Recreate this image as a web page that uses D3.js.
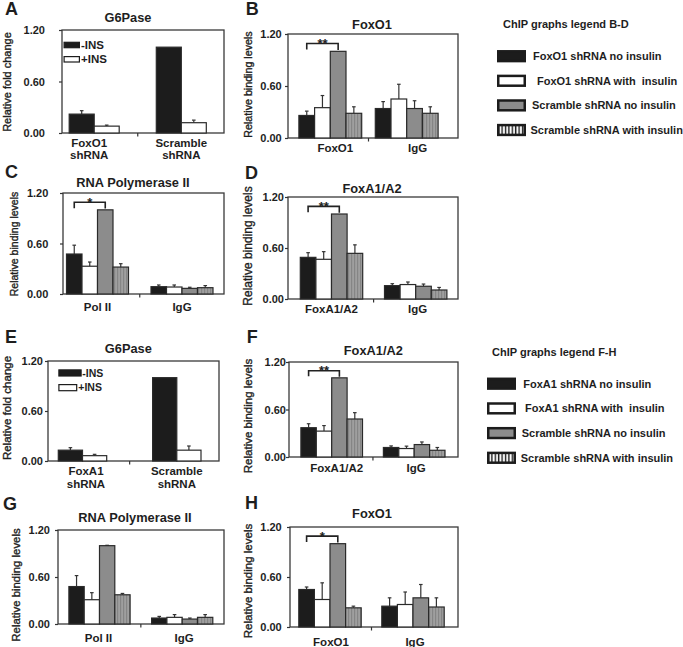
<!DOCTYPE html>
<html><head><meta charset="utf-8">
<script src="https://cdn.jsdelivr.net/npm/d3@7"></script>
<style>
body{margin:0;background:#fff}
svg{display:block}
text{font-family:"Liberation Sans",Arial,Helvetica,sans-serif;fill:#1e1e1e}
</style>
</head><body>
<script>
// ---------------- data ----------------
const yTicks = [0, 0.6, 1.2];
const foldLegend = ["-INS", "+INS"];

// A: G6Pase (FoxO1 knockdown)
const aCategories = ["FoxO1 shRNA", "Scramble shRNA"];
const aNoIns = [0.22, 1.00];
const aNoInsErr = [0.04, 0];
const aIns = [0.08, 0.12];
const aInsErr = [0.012, 0.03];

// B: FoxO1 ChIP
const bCategories = ["FoxO1", "IgG"];
const bKdNoIns = [0.26, 0.34];
const bKdNoInsErr = [0.05, 0.08];
const bKdIns = [0.35, 0.45];
const bKdInsErr = [0.14, 0.17];
const bScrNoIns = [1.00, 0.34];
const bScrNoInsErr = [0, 0.09];
const bScrIns = [0.285, 0.285];
const bScrInsErr = [0.075, 0.075];

// C: RNA Polymerase II ChIP
const cCategories = ["Pol II", "IgG"];
const cKdNoIns = [0.475, 0.087];
const cKdNoInsErr = [0.105, 0.02];
const cKdIns = [0.33, 0.083];
const cKdInsErr = [0.05, 0.024];
const cScrNoIns = [1.00, 0.067];
const cScrNoInsErr = [0, 0.013];
const cScrIns = [0.32, 0.075];
const cScrInsErr = [0.04, 0.025];

// D: FoxA1/A2 ChIP
const dCategories = ["FoxA1/A2", "IgG"];
const dKdNoIns = [0.49, 0.157];
const dKdNoInsErr = [0.055, 0.023];
const dKdIns = [0.467, 0.17];
const dKdInsErr = [0.09, 0.03];
const dScrNoIns = [1.00, 0.15];
const dScrNoInsErr = [0, 0.026];
const dScrIns = [0.537, 0.106];
const dScrInsErr = [0.10, 0.03];

// E: G6Pase (FoxA1 knockdown)
const eCategories = ["FoxA1 shRNA", "Scramble shRNA"];
const eNoIns = [0.13, 1.00];
const eNoInsErr = [0.03, 0];
const eIns = [0.064, 0.13];
const eInsErr = [0.016, 0.05];

// F: FoxA1/A2 ChIP
const fCategories = ["FoxA1/A2", "IgG"];
const fKdNoIns = [0.37, 0.12];
const fKdNoInsErr = [0.05, 0.02];
const fKdIns = [0.327, 0.107];
const fKdInsErr = [0.07, 0.03];
const fScrNoIns = [1.00, 0.157];
const fScrNoInsErr = [0, 0.033];
const fScrIns = [0.48, 0.085];
const fScrInsErr = [0.08, 0.035];

// G: RNA Polymerase II ChIP
const gCategories = ["Pol II", "IgG"];
const gKdNoIns = [0.478, 0.076];
const gKdNoInsErr = [0.14, 0.021];
const gKdIns = [0.31, 0.085];
const gKdInsErr = [0.09, 0.035];
const gScrNoIns = [1.00, 0.063];
const gScrNoInsErr = [0.005, 0.013];
const gScrIns = [0.373, 0.085];
const gScrInsErr = [0.017, 0.035];

// H: FoxO1 ChIP
const hCategories = ["FoxO1", "IgG"];
const hKdNoIns = [0.45, 0.25];
const hKdNoInsErr = [0.03, 0.10];
const hKdIns = [0.33, 0.27];
const hKdInsErr = [0.20, 0.15];
const hScrNoIns = [1.00, 0.35];
const hScrNoInsErr = [0, 0.16];
const hScrIns = [0.23, 0.24];
const hScrInsErr = [0.02, 0.11];

const legendBDTitle = "ChIP graphs legend B-D";
const legendBD = ["FoxO1 shRNA no insulin", "FoxO1 shRNA with  insulin", "Scramble shRNA no insulin", "Scramble shRNA with insulin"];
const legendFHTitle = "ChIP graphs legend F-H";
const legendFH = ["FoxA1 shRNA no insulin", "FoxA1 shRNA with  insulin", "Scramble shRNA no insulin", "Scramble shRNA with insulin"];

// ---------------- styles / layout ----------------
const W = 683, H = 647;
const FILL2 = ["#1c1c1c", "#ffffff"];
const FILL4 = ["#1c1c1c", "#ffffff", "#8c8c8c", "url(#stripeBar)"];
const LEG_FILL4 = ["#1c1c1c", "#ffffff", "#8c8c8c", "url(#stripeLeg)"];

const svg = d3.select("body").append("svg").attr("width", W).attr("height", H);
const defs = svg.append("defs");
const p1 = defs.append("pattern").attr("id", "stripeBar").attr("patternUnits", "userSpaceOnUse")
  .attr("width", 3).attr("height", 10);
p1.append("rect").attr("width", 3).attr("height", 10).attr("fill", "#858585");
p1.append("rect").attr("x", 1.5).attr("width", 1.1).attr("height", 10).attr("fill", "#b0b0b0");
const p2 = defs.append("pattern").attr("id", "stripeLeg").attr("patternUnits", "userSpaceOnUse")
  .attr("width", 3.4).attr("height", 10);
p2.append("rect").attr("width", 3.4).attr("height", 10).attr("fill", "#ffffff");
p2.append("rect").attr("x", 1.6).attr("width", 1.4).attr("height", 10).attr("fill", "#1c1c1c");

const panels = [
  { id: "A", title: "G6Pase", ylabel: "Relative fold change", cats: aCategories,
    series: [aNoIns, aIns], errs: [aNoInsErr, aInsErr], fills: FILL2,
    box: [62, 30, 224, 133], centers: [94.2, 181.3], barW: 25, tickPad: 14,
    titleXY: [128, 21.7], letterXY: [5, 15], ylab: [7, 82, 11], xlab: { y: 146.7, dx: [-5, 0], lh: 12.6 },
    legend: { x: 63.5, ys: [41.7, 56], w: [16.5, 16.5], h: 6.6, tx: [81, 81], size: 11.5 } },
  { id: "B", title: "FoxO1", ylabel: "Relative binding levels", cats: bCategories,
    series: [bKdNoIns, bKdIns, bScrNoIns, bScrIns], errs: [bKdNoInsErr, bKdInsErr, bScrNoInsErr, bScrInsErr], fills: FILL4,
    box: [288, 34, 458, 138], centers: [330.3, 406.7], barW: 15.7, tickPad: 3.3,
    titleXY: [372, 29], letterXY: [245.7, 15], ylab: [248, 84.5, 10.7], xlab: { y: 151.7, dx: [5, 11], lh: 12.6 },
    sig: "**" },
  { id: "C", title: "RNA Polymerase II", ylabel: "Relative binding levels", cats: cCategories,
    series: [cKdNoIns, cKdIns, cScrNoIns, cScrIns], errs: [cKdNoInsErr, cKdInsErr, cScrNoInsErr, cScrInsErr], fills: FILL4,
    box: [63, 193, 224, 294], centers: [97.5, 182], barW: 15.5, tickPad: 11.7,
    titleXY: [133, 186.7], letterXY: [5, 178], ylab: [14, 244, 10.5], xlab: { y: 310.7, dx: [0, 0], lh: 12.6 },
    sig: "*" },
  { id: "D", title: "FoxA1/A2", ylabel: "Relative binding levels", cats: dCategories,
    series: [dKdNoIns, dKdIns, dScrNoIns, dScrIns], errs: [dKdNoInsErr, dKdInsErr, dScrNoInsErr, dScrInsErr], fills: FILL4,
    box: [288, 197, 458, 299], centers: [331.5, 415.7], barW: 15.6, tickPad: 1,
    titleXY: [372, 193.3], letterXY: [245, 179], ylab: [247.5, 246, 12], xlab: { y: 313.3, dx: [0, 2], lh: 12.6 },
    sig: "**" },
  { id: "E", title: "G6Pase", ylabel: "Relative fold change", cats: eCategories,
    series: [eNoIns, eIns], errs: [eNoInsErr, eInsErr], fills: FILL2,
    box: [48, 361, 219, 461], centers: [82.5, 176.8], barW: 24.2, tickPad: 2,
    titleXY: [128.3, 352.7], letterXY: [5, 343], ylab: [6.7, 408, 11.5], xlab: { y: 475.3, dx: [3.5, 0], lh: 12.6 },
    legend: { x: 58.3, ys: [369.3, 384], w: [23.4, 19], h: 7.3, tx: [82.3, 78.3], size: 10.5 } },
  { id: "F", title: "FoxA1/A2", ylabel: "Relative binding levels", cats: fCategories,
    series: [fKdNoIns, fKdIns, fScrNoIns, fScrIns], errs: [fKdNoInsErr, fKdInsErr, fScrNoInsErr, fScrInsErr], fills: FILL4,
    box: [289, 362, 458, 457], centers: [331.7, 414.2], barW: 15.4, tickPad: 0,
    titleXY: [373.3, 355], letterXY: [246.7, 343], ylab: [247.5, 416, 11.5], xlab: { y: 471.7, dx: [5, 2], lh: 12.6 },
    sig: "**" },
  { id: "G", title: "RNA Polymerase II", ylabel: "Relative binding levels", cats: gCategories,
    series: [gKdNoIns, gKdIns, gScrNoIns, gScrIns], errs: [gKdNoInsErr, gKdInsErr, gScrNoInsErr, gScrInsErr], fills: FILL4,
    box: [58, 530, 224, 624], centers: [99.5, 182.2], barW: 15.3, tickPad: 5,
    titleXY: [135, 521.7], letterXY: [3, 510], ylab: [16, 585, 11.4], xlab: { y: 641.7, dx: [-1, 2], lh: 12.6 } },
  { id: "H", title: "FoxO1", ylabel: "Relative binding levels", cats: hCategories,
    series: [hKdNoIns, hKdIns, hScrNoIns, hScrIns], errs: [hKdNoInsErr, hKdInsErr, hScrNoInsErr, hScrInsErr], fills: FILL4,
    box: [290, 527, 458, 627], centers: [330, 413], barW: 15.6, tickPad: 5.3,
    titleXY: [372, 518.3], letterXY: [245, 509], ylab: [247.5, 581, 11.5], xlab: { y: 645.5, dx: [1, 2], lh: 12.6 },
    sig: "*" }
];

function drawPanel(p) {
  const g = svg.append("g").attr("class", "panel-" + p.id);
  const [x0, y0, x1, y1] = p.box;
  const y = d3.scaleLinear().domain([0, 1.2]).range([y1, y0]);
  const step = p.centers[1] - p.centers[0];
  const x = d3.scaleBand().domain(p.cats).range([p.centers[0] - step / 2, p.centers[1] + step / 2]).padding(0);
  const nS = p.series.length;
  const xs = d3.scaleBand().domain(d3.range(nS)).range([-nS * p.barW / 2, nS * p.barW / 2]);
  const cx = c => x(c) + x.bandwidth() / 2;

  // frame
  g.append("rect").attr("x", x0).attr("y", y0).attr("width", x1 - x0).attr("height", y1 - y0)
    .attr("fill", "#fff").attr("stroke", "#3a3a3a").attr("stroke-width", 1.3);

  // bars + error bars
  p.series.forEach((vals, si) => {
    const rows = p.cats.map((c, i) => ({ c, v: vals[i], e: p.errs[si][i] }));
    g.selectAll(null).data(rows.filter(d => d.e > 0)).join("g").each(function (d) {
      const sel = d3.select(this);
      const bx = cx(d.c) + xs(si) + xs.bandwidth() / 2;
      sel.append("line").attr("x1", bx).attr("x2", bx).attr("y1", y(d.v)).attr("y2", y(d.v + d.e))
        .attr("stroke", "#333").attr("stroke-width", 1.2);
      sel.append("line").attr("x1", bx - 1.8).attr("x2", bx + 1.8).attr("y1", y(d.v + d.e)).attr("y2", y(d.v + d.e))
        .attr("stroke", "#333").attr("stroke-width", 1.2);
    });
    g.selectAll(null).data(rows).join("rect")
      .attr("x", d => cx(d.c) + xs(si))
      .attr("y", d => y(d.v))
      .attr("width", xs.bandwidth())
      .attr("height", d => y(0) - y(d.v))
      .attr("fill", p.fills[si])
      .attr("stroke", "#2a2a2a").attr("stroke-width", 1.2);
  });

  // y axis
  const ax = d3.axisLeft(y).tickValues(yTicks).tickFormat(d3.format(".2f")).tickSize(3).tickPadding(p.tickPad);
  const ag = g.append("g").attr("transform", `translate(${x0},0)`).call(ax);
  ag.select(".domain").remove();
  ag.selectAll("line").attr("stroke", "#333").attr("stroke-width", 1.2);
  ag.selectAll("text").attr("font-size", 11).attr("font-weight", "bold").attr("fill", "#1e1e1e")
    .style("font-family", "'Liberation Sans',Arial,sans-serif");

  // middle x tick
  const mid = x(p.cats[1]);
  g.append("line").attr("x1", mid).attr("x2", mid).attr("y1", y1).attr("y2", y1 + 3.5)
    .attr("stroke", "#333").attr("stroke-width", 1.2);

  // x labels
  p.cats.forEach((c, i) => {
    const lines = nS === 2 ? c.split(" ") : [c];
    const t = g.append("text").attr("text-anchor", "middle").attr("font-size", 11.5).attr("font-weight", "bold");
    lines.forEach((ln, li) => {
      t.append("tspan").attr("x", cx(c) + p.xlab.dx[i]).attr("y", p.xlab.y + li * p.xlab.lh).text(ln);
    });
  });

  // title, letter, y label
  g.append("text").attr("x", p.titleXY[0]).attr("y", p.titleXY[1]).attr("text-anchor", "middle")
    .attr("font-size", 12.8).attr("font-weight", "bold").text(p.title);
  g.append("text").attr("x", p.letterXY[0]).attr("y", p.letterXY[1])
    .attr("font-size", 18).attr("font-weight", "bold").text(p.id);
  g.append("text").attr("transform", `translate(${p.ylab[0] + p.ylab[2] * 0.36},${p.ylab[1]}) rotate(-90)`)
    .attr("text-anchor", "middle").attr("font-size", p.ylab[2]).attr("fill", "#222")
    .attr("stroke", "#222").attr("stroke-width", 0.35).text(p.ylabel);

  // significance bracket
  if (p.sig) {
    const c0 = p.cats[0];
    const xa = cx(c0) + xs(0) + xs.bandwidth() / 2;
    const xb = cx(c0) + xs(2) + xs.bandwidth() / 2;
    g.append("path").attr("d", `M${xa},${y(1.02)}V${y(1.09)}H${xb}V${y(1.015)}`)
      .attr("fill", "none").attr("stroke", "#222").attr("stroke-width", 1.6);
    g.append("text").attr("x", (xa + xb) / 2).attr("y", y(1.09) + 4.5).attr("text-anchor", "middle")
      .attr("font-size", 13).attr("font-weight", "bold").attr("fill", "#333").text(p.sig);
  }

  // inner legend (fold change panels)
  if (p.legend) {
    const L = p.legend;
    foldLegend.forEach((lab, i) => {
      g.append("rect").attr("x", L.x + 0.6).attr("y", L.ys[i] + 0.6).attr("width", L.w[i] - 1.2).attr("height", L.h - 1.2)
        .attr("fill", FILL2[i]).attr("stroke", "#1c1c1c").attr("stroke-width", 1.2);
      g.append("text").attr("x", L.tx[i]).attr("y", L.ys[i] + L.h / 2 + L.size * 0.36)
        .attr("font-size", L.size).attr("font-weight", "bold").text(lab);
    });
  }
}
panels.forEach(drawPanel);

// side legends
function drawChipLegend(title, labels, L) {
  const g = svg.append("g");
  g.append("text").attr("x", L.titleX).attr("y", L.titleY).attr("font-size", 11).attr("font-weight", "bold").text(title);
  labels.forEach((lab, i) => {
    const cy = L.y0 + i * L.dy;
    g.append("rect").attr("x", L.sx + 1.25).attr("y", cy - 6.15 + 1.25).attr("width", 26.5).attr("height", 9.8)
      .attr("fill", LEG_FILL4[i]).attr("stroke", "#1c1c1c").attr("stroke-width", 2.5);
    g.append("text").attr("x", L.tx[i]).attr("y", cy + 4).attr("font-size", 11).attr("font-weight", "bold")
      .attr("xml:space", "preserve").style("white-space", "pre").text(lab);
  });
}
drawChipLegend(legendBDTitle, legendBD, { titleX: 503, titleY: 28, sx: 497, y0: 56.2, dy: 24.6, tx: [533, 537, 532, 530.5] });
drawChipLegend(legendFHTitle, legendFH, { titleX: 492, titleY: 356, sx: 487, y0: 383.7, dy: 24.7, tx: [523.3, 525, 521.7, 520.7] });
</script>
</body></html>
